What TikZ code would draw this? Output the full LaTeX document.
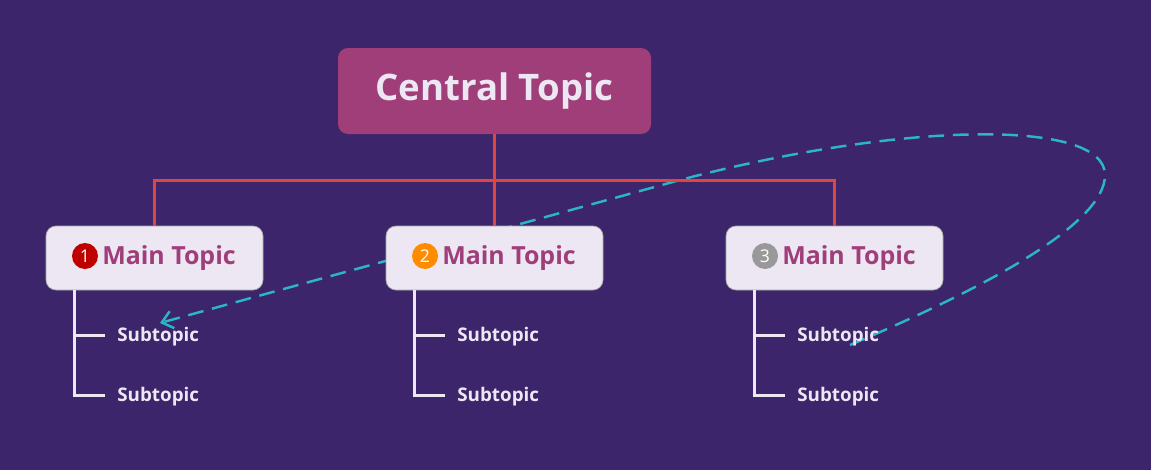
\documentclass[tikz,border=0pt]{standalone}
\usepackage{fontspec}
\setmainfont{Open Sans}
\usetikzlibrary{positioning,arrows.meta}
\definecolor{bgpurple}{HTML}{3C256A}
\definecolor{centralpink}{HTML}{A03E7A}
\definecolor{mainfill}{HTML}{EDE6F3}
\definecolor{linkred}{HTML}{E0453F}
\definecolor{loopcyan}{HTML}{2BB5C5}
\definecolor{subwhite}{HTML}{EDE6F3}

\begin{document}
\begin{tikzpicture}[x=0.02cm, y=-0.02cm]
    % Styles
    \tikzset{
        centralNode/.style={
                fill=centralpink,
                rounded corners=0.2cm,
                minimum width=313*0.02cm,
                minimum height=86*0.02cm,
                text=subwhite,
                font=\fontsize{20.8}{22}\selectfont\bfseries
            }
    }
    \tikzset{
        mainNode/.style={
                fill=mainfill,
                draw=gray!70,
                rounded corners=0.2cm,
                minimum width=217*0.02cm,
                minimum height=64*0.02cm,
                text=centralpink,
                font=\fontsize{14.2}{16}\selectfont\bfseries
            }
    }
    \tikzset{
        subNode/.style={
                anchor=west,
                inner xsep=0.24cm,
                text=subwhite,
                font=\fontsize{10.7}{12}\selectfont\bfseries
            }
    }
    \tikzset{
        badge/.style={
                circle,
                inner sep=0pt,
                minimum size=0.52cm,
                text=white,
                font=\fontsize{10}{11}\selectfont
            }
    }
    % Background
    \fill[bgpurple] (0,0) rectangle (1151,470);
    \coordinate(loopStart) at (850,345);
    \coordinate(loopEnd) at (160,323);
    % Dashed loop (behind the boxes)
    \draw[loopcyan, line width=1.4pt, dash pattern=on 9pt off 5pt, -{Straight Barb[length=6pt,width=10pt]}]
        (loopStart) .. controls (980,290) and (1105,225) .. (1105,175)
        .. controls (1105,118) and (900,122) .. (680,180) -- (loopEnd);
    % Placing nodes
    \node[centralNode](central) at (494.5,91){Central Topic};
    \node[mainNode](main1) at (154.5,258){\hspace{0.58cm}Main Topic};
    \node[mainNode](main2) at (494.5,258){\hspace{0.58cm}Main Topic};
    \node[mainNode](main3) at (834.5,258){\hspace{0.58cm}Main Topic};
    \node[badge, fill=red!75!black](badge1) at (85,256){1};
    \node[badge, fill=orange!90!yellow](badge2) at (425,256){2};
    \node[badge, fill=gray!80](badge3) at (765,256){3};
    \node[subNode](sub11) at (105,337){Subtopic};
    \node[subNode](sub12) at (105,397){Subtopic};
    \node[subNode](sub21) at (445,337){Subtopic};
    \node[subNode](sub22) at (445,397){Subtopic};
    \node[subNode](sub31) at (785,337){Subtopic};
    \node[subNode](sub32) at (785,397){Subtopic};
    % Draw tree lines
    \draw[linkred, line width=1.5pt](central.south) -- (main2.north);
    \draw[linkred, line width=1.5pt](central.south) ++(0,46) -| (main1.north);
    \draw[linkred, line width=1.5pt](central.south) ++(0,46) -| (main3.north);
    \draw[subwhite, line width=1.5pt]([xshift=0.58cm]main1.south west) |- ([yshift=1pt]sub11.west);
    \draw[subwhite, line width=1.5pt]([xshift=0.58cm]main1.south west) |- ([yshift=1pt]sub12.west);
    \draw[subwhite, line width=1.5pt]([xshift=0.58cm]main2.south west) |- ([yshift=1pt]sub21.west);
    \draw[subwhite, line width=1.5pt]([xshift=0.58cm]main2.south west) |- ([yshift=1pt]sub22.west);
    \draw[subwhite, line width=1.5pt]([xshift=0.58cm]main3.south west) |- ([yshift=1pt]sub31.west);
    \draw[subwhite, line width=1.5pt]([xshift=0.58cm]main3.south west) |- ([yshift=1pt]sub32.west);
\end{tikzpicture}
\end{document}
